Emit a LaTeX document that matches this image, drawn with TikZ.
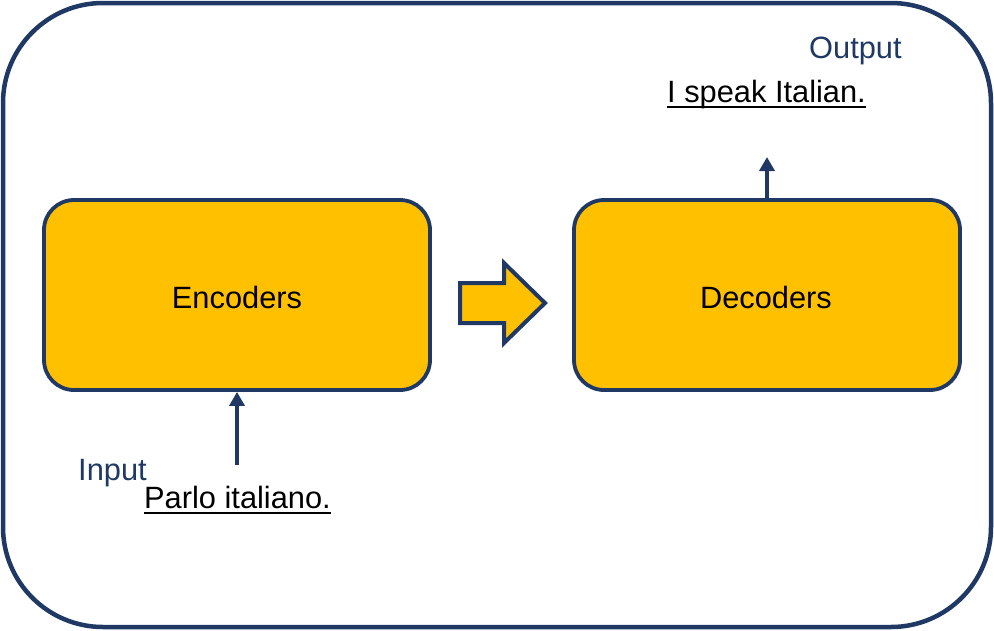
\documentclass[tikz,border=0pt]{standalone}
\usepackage{fontspec}
\setmainfont{Liberation Sans}
\usetikzlibrary{arrows.meta}
\definecolor{navy}{HTML}{1F3864}
\definecolor{gold}{HTML}{FFC000}
\begin{document}
\begin{tikzpicture}[x=1pt,y=-1pt,
  txt/.style={font=\fontsize{30.8}{36}\selectfont, inner sep=0pt},
  blockbox/.style={draw=navy, fill=gold, line width=3.8pt, rounded corners=30pt, minimum width=386pt, minimum height=190pt, txt},
  arr/.style={draw=navy, line width=4pt, -{Triangle[length=14pt,width=15pt]}},
  uline/.style={draw=black, line width=1.8pt}]
\useasboundingbox (0,0) rectangle (994,630);
\draw[navy, line width=4.5pt, rounded corners=100pt] (3,3) rectangle (991,627);
\node[blockbox] (enc) at (237,295) {};
\node[blockbox] (dec) at (767,295) {};
\node[txt] (enct) at (237,297) {Encoders};
\node[txt] (dect) at (766,297) {Decoders};
% block arrow
\filldraw[draw=navy, fill=gold, line width=4pt, line join=miter]
  (460,283) -- (504,283) -- (504,263) -- (545,303) -- (504,343) -- (504,323) -- (460,323) -- cycle;
% input
\node[txt, anchor=base west, text=navy] (inp) at (78,480) {Input};
\node[txt, anchor=base west] (ptxt) at (144,508) {Parlo italiano.};
\draw[uline] ([yshift=-5pt]ptxt.base west) -- ([yshift=-5pt]ptxt.base east);
\coordinate (ia) at (237,465);
\draw[arr] (ia) -- (enc.south -| ia);
% output
\node[txt, anchor=base west, text=navy] (outp) at (809,58) {Output};
\node[txt, anchor=base west] (otxt) at (667,102) {I speak Italian.};
\draw[uline] ([yshift=-5pt]otxt.base west) -- ([yshift=-5pt]otxt.base east);
\coordinate (oa) at (767,157);
\draw[arr] (dec.north) -- (oa);
\end{tikzpicture}
\end{document}
